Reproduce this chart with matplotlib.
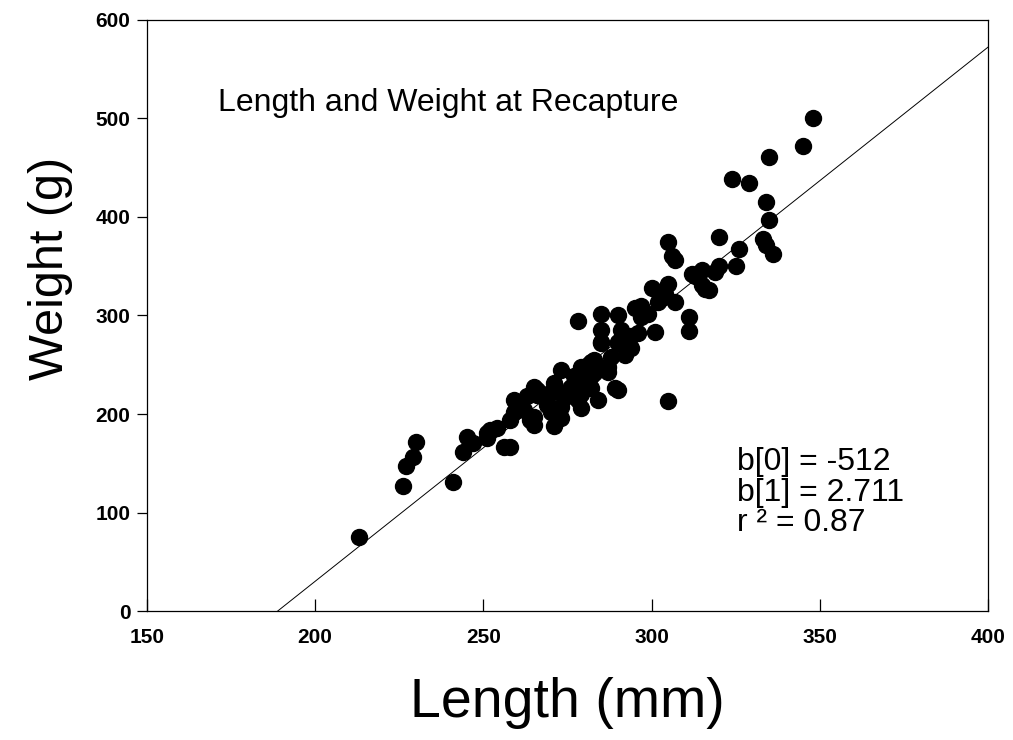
import matplotlib
matplotlib.use("Agg")
import matplotlib.pyplot as plt
import numpy as np

# fish length (mm) and weight (g) at recapture
length_mm = [213, 226, 227, 229, 230, 241, 244, 245, 247, 251, 251, 252, 254,
             256, 258, 258, 259, 259, 260, 262, 263, 264, 265, 265, 265, 266,
             266, 269, 269, 270, 270, 271, 271, 273, 273, 273, 274, 275, 276,
             277, 278, 278, 279, 279, 279, 280, 280, 281, 282, 282, 282, 283,
             283, 284, 285, 285, 285, 285, 286, 287, 287, 288, 289, 290, 290,
             290, 290, 291, 292, 293, 294, 294, 295, 296, 297, 297, 299, 300,
             301, 302, 303, 304, 305, 305, 305, 306, 307, 307, 311, 311, 312,
             313, 315, 315, 316, 317, 319, 320, 320, 324, 325, 326, 329, 333,
             334, 334, 335, 335, 336, 345, 348]
weight_g = [75, 127, 147, 156, 172, 131, 161, 177, 171, 181, 176, 184, 186,
            166, 166, 194, 202, 214, 211, 204, 218, 194, 189, 227, 197, 219,
            224, 212, 209, 222, 202, 231, 188, 245, 196, 207, 216, 222, 227,
            239, 294, 214, 206, 220, 248, 231, 243, 250, 239, 226, 253, 255,
            242, 214, 302, 285, 273, 272, 247, 243, 248, 258, 226, 273, 300,
            224, 272, 285, 260, 270, 279, 267, 308, 282, 298, 310, 302, 328,
            283, 314, 318, 322, 332, 375, 213, 360, 356, 314, 298, 284, 342,
            340, 346, 331, 327, 326, 344, 350, 380, 439, 350, 367, 435, 378,
            415, 372, 397, 461, 362, 472, 501]

# regression coefficients
b0 = -512
b1 = 2.711
r2 = 0.87

plt.rcParams['font.family'] = ['Liberation Sans', 'DejaVu Sans']

fig = plt.figure(figsize=(10.13, 7.40), dpi=100)
ax = fig.add_axes([0.1451, 0.1743, 0.8302, 0.7987])

ax.plot(length_mm, weight_g, 'o', color='black', markersize=11.5, zorder=3)

# fitted line, from the x-intercept to the right edge
x_fit = np.array([-b0 / b1, 400])
ax.plot(x_fit, b0 + b1 * x_fit, color='black', linewidth=0.7)

ax.set_xlim(150, 400)
ax.set_ylim(0, 600)
ax.set_xticks([150, 200, 250, 300, 350, 400])
ax.set_yticks([0, 100, 200, 300, 400, 500, 600])

for s in ax.spines.values():
    s.set_linewidth(0.9)

ax.tick_params(axis='y', direction='out', length=7, width=0.9, pad=5,
               labelsize=15)
ax.tick_params(axis='x', direction='in', length=9, width=0.9, pad=12,
               labelsize=15)
for lab in ax.get_xticklabels() + ax.get_yticklabels():
    lab.set_fontweight('bold')

ax.set_xlabel("Length (mm)", fontsize=40, labelpad=22)
ax.set_ylabel("Weight (g)", fontsize=35, labelpad=16)
ax.yaxis.label.set_y(0.58)

ax.text(0.084, 0.86, "Length and Weight at Recapture", transform=ax.transAxes,
        fontsize=23, va='center', ha='left')
ax.text(0.701, 0.20, "b[0] = -512\nb[1] = 2.711\nr \u00b2 = 0.87",
        transform=ax.transAxes, fontsize=23, va='center', ha='left',
        linespacing=1.02)

fig.savefig("out.png", dpi=100)
